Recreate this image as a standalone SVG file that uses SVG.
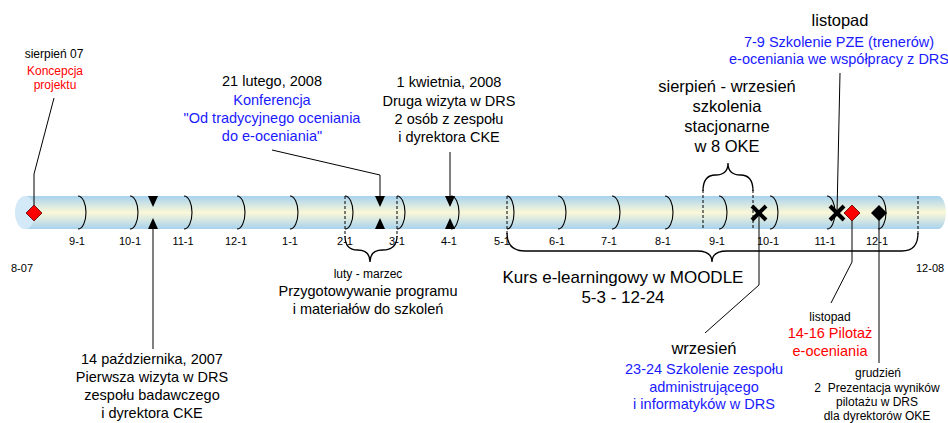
<svg xmlns="http://www.w3.org/2000/svg" width="948" height="423" viewBox="0 0 948 423">
<defs>
<linearGradient id="tubeGrad" x1="0" y1="0" x2="0" y2="1">
<stop offset="0" stop-color="#a8d2ee"/>
<stop offset="0.5" stop-color="#faf8d8"/>
<stop offset="1" stop-color="#a8d2ee"/>
</linearGradient>
</defs>
<style>
text{font-family:"Liberation Sans",Arial,sans-serif;text-anchor:middle;fill:#000}
.m{font-size:11px}
.t{font-size:14.5px}
.s{font-size:12px}
.b{font-size:16.5px}
.blue{fill:#1a1aff}
.red{fill:#ff0000}
.arc{fill:none;stroke:#000;stroke-width:1.1}
.dash{stroke:#000;stroke-width:1;stroke-dasharray:3,2}
.ln{fill:none;stroke:#000;stroke-width:1}
.br{fill:none;stroke:#000;stroke-width:1.3}
.tri{fill:#000}
.x{stroke:#000;stroke-width:4;stroke-linecap:butt}
</style>
<g id="tube">
<path d="M25,196 H938 A8,16.5 0 0 1 938,229 H25 Z" fill="url(#tubeGrad)"/>
<ellipse cx="25" cy="212.5" rx="10" ry="16.5" fill="#d4e9f7"/>
</g>
<g id="ticks">
<path class="arc" d="M78,196 a8,16.5 0 0 1 0,33"/>
<path class="arc" d="M130,196 a8,16.5 0 0 1 0,33"/>
<path class="arc" d="M184,196 a8,16.5 0 0 1 0,33"/>
<path class="arc" d="M237,196 a8,16.5 0 0 1 0,33"/>
<path class="arc" d="M290,196 a8,16.5 0 0 1 0,33"/>
<path class="arc" d="M345,196 a8,16.5 0 0 1 0,33"/>
<path class="arc" d="M397,196 a8,16.5 0 0 1 0,33"/>
<path class="arc" d="M451,196 a8,16.5 0 0 1 0,33"/>
<path class="arc" d="M507,196 a7,16.5 0 0 1 0,33"/>
<path class="arc" d="M558,196 a8,16.5 0 0 1 0,33"/>
<path class="arc" d="M612,196 a8,16.5 0 0 1 0,33"/>
<path class="arc" d="M665,196 a8,16.5 0 0 1 0,33"/>
<path class="arc" d="M719,196 a8,16.5 0 0 1 0,33"/>
<path class="arc" d="M770,196 a8,16.5 0 0 1 0,33"/>
<path class="arc" d="M827,196 a8,16.5 0 0 1 0,33"/>
<path class="arc" d="M878,196 a8,16.5 0 0 1 0,33"/>
<line class="dash" x1="345" y1="196" x2="345" y2="237"/>
<line class="dash" x1="397" y1="196" x2="397" y2="237"/>
<line class="dash" x1="507" y1="196" x2="507" y2="234"/>
<line class="dash" x1="703" y1="190" x2="703" y2="229"/>
<line class="dash" x1="753" y1="190" x2="753" y2="229"/>
<line class="dash" x1="918" y1="196" x2="918" y2="234"/>
</g>
<g id="month-labels">
<text class="m" x="77" y="245">9-1</text>
<text class="m" x="130" y="245">10-1</text>
<text class="m" x="183" y="245">11-1</text>
<text class="m" x="236" y="245">12-1</text>
<text class="m" x="290" y="245">1-1</text>
<text class="m" x="345" y="245">2-1</text>
<text class="m" x="397" y="245">3-1</text>
<text class="m" x="449" y="245">4-1</text>
<text class="m" x="502" y="245">5-1</text>
<text class="m" x="557" y="245">6-1</text>
<text class="m" x="609" y="245">7-1</text>
<text class="m" x="663" y="245">8-1</text>
<text class="m" x="717" y="245">9-1</text>
<text class="m" x="768" y="245">10-1</text>
<text class="m" x="825" y="245">11-1</text>
<text class="m" x="877" y="245">12-1</text>
<text class="m" x="11" y="272" style="text-anchor:start">8-07</text>
<text class="m" x="916" y="272" style="text-anchor:start">12-08</text>
</g>
<g id="connectors">
<polyline class="ln" points="34,213 34,174 54,98"/>
<line class="ln" x1="153" y1="229" x2="153" y2="349"/>
<polyline class="ln" points="272,150 380,175 380,197"/>
<line class="ln" x1="450" y1="152" x2="450" y2="197"/>
<polyline class="ln" points="759,213 759,285 705,333"/>
<line class="ln" x1="840" y1="73" x2="837" y2="213"/>
<polyline class="ln" points="852,213 852,262 831,303"/>
<line class="ln" x1="879" y1="213" x2="879" y2="363"/>
</g>
<g id="braces">
<path class="br" d="M345,236 Q345,250 357.5,250 Q370,250 370,262 Q370,250 382.5,250 Q397,250 397,236"/>
<path class="br" d="M703,191 Q703,175 715.5,175 Q728,175 728,163 Q728,175 740.5,175 Q753,175 753,191"/>
<path class="br" d="M507,233 Q507,251 525,251 L697,251 Q712,251 712,262 Q712,251 727,251 L902,251 Q918,251 918,233"/>
</g>
<g id="markers">
<polygon id="m-koncepcja" points="34,205 42,213 34,221 26,213" fill="#ff0000" stroke="#5a0000" stroke-width="0.8"/>
<g id="m-oct">
<polygon class="tri" points="148,196 158,196 153,207"/>
<polygon class="tri" points="148,229 158,229 153,218"/>
</g>
<g id="m-feb">
<polygon class="tri" points="375,196 385,196 380,207"/>
<polygon class="tri" points="375,229 385,229 380,218"/>
</g>
<g id="m-apr">
<polygon class="tri" points="445,196 455,196 450,207"/>
<polygon class="tri" points="445,229 455,229 450,218"/>
</g>
<g id="m-sep">
<line class="x" x1="752" y1="206" x2="766" y2="220"/>
<line class="x" x1="766" y1="206" x2="752" y2="220"/>
</g>
<g id="m-nov">
<line class="x" x1="830" y1="206" x2="844" y2="220"/>
<line class="x" x1="844" y1="206" x2="830" y2="220"/>
</g>
<polygon id="m-pilotaz" points="852,205 860,213 852,221 844,213" fill="#ff0000" stroke="#5a0000" stroke-width="0.8"/>
<polygon id="m-grudzien" points="879,205 887,213 879,221 871,213" fill="#000"/>
</g>
<g id="n-koncepcja">
<text class="s" x="54" y="58">sierpień 07</text>
<text class="s red" x="55" y="75">Koncepcja</text>
<text class="s red" x="55" y="89">projektu</text>
</g>
<g id="n-oct">
<text class="t" x="152" y="364">14 października, 2007</text>
<text class="t" x="152" y="382">Pierwsza wizyta w DRS</text>
<text class="t" x="152" y="400">zespołu badawczego</text>
<text class="t" x="152" y="418">i dyrektora CKE</text>
</g>
<g id="n-feb">
<text class="t" x="272" y="86">21 lutego, 2008</text>
<text class="t blue" x="272" y="105">Konferencja</text>
<text class="t blue" x="272" y="123">"Od tradycyjnego oceniania</text>
<text class="t blue" x="272" y="141">do e-oceniania"</text>
</g>
<g id="n-apr">
<text class="t" x="449" y="87">1 kwietnia, 2008</text>
<text class="t" x="449" y="106">Druga wizyta w DRS</text>
<text class="t" x="449" y="124">2 osób z zespołu</text>
<text class="t" x="449" y="142">i dyrektora CKE</text>
</g>
<g id="n-lutymarzec">
<text class="s" x="368" y="278">luty - marzec</text>
<text class="t" x="368" y="296">Przygotowywanie programu</text>
<text class="t" x="368" y="314">i materiałów do szkoleń</text>
</g>
<g id="n-moodle">
<text x="623" y="283" style="font-size:17px">Kurs e-learningowy w MOODLE</text>
<text x="623" y="303" style="font-size:17px">5-3 - 12-24</text>
</g>
<g id="n-stacjonarne">
<text class="b" x="727" y="92">sierpień - wrzesień</text>
<text class="b" x="727" y="112">szkolenia</text>
<text class="b" x="727" y="132">stacjonarne</text>
<text class="b" x="727" y="152">w 8 OKE</text>
</g>
<g id="n-pze">
<text class="b" x="840" y="26">listopad</text>
<text class="t blue" x="839" y="47">7-9 Szkolenie PZE (trenerów)</text>
<text class="t blue" x="839" y="64">e-oceniania we współpracy z DRS</text>
</g>
<g id="n-wrzesien">
<text class="b" x="704" y="354">wrzesień</text>
<text class="t blue" x="704" y="374">23-24 Szkolenie zespołu</text>
<text class="t blue" x="704" y="392">administrującego</text>
<text class="t blue" x="704" y="409">i informatyków w DRS</text>
</g>
<g id="n-pilotaz">
<text class="s" x="830" y="321">listopad</text>
<text class="t red" x="830" y="338">14-16 Pilotaż</text>
<text class="t red" x="830" y="356">e-oceniania</text>
</g>
<g id="n-grudzien">
<text class="s" x="878" y="377">grudzień</text>
<text class="s" x="877" y="392" style="white-space:pre">2  Prezentacja wyników</text>
<text class="s" x="877" y="406">pilotażu w DRS</text>
<text class="s" x="877" y="419.5">dla dyrektorów OKE</text>
</g>
</svg>
